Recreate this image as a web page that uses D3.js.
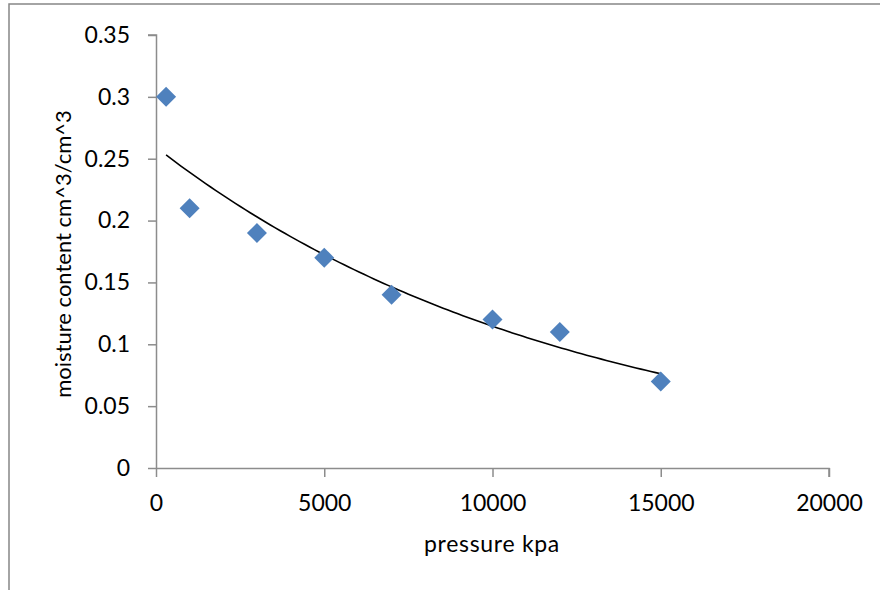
<!DOCTYPE html>
<html>
<head>
<meta charset="utf-8">
<script src="https://cdn.jsdelivr.net/npm/d3@7/dist/d3.min.js"></script>
<style>
  html, body { margin: 0; padding: 0; background: #fff; }
  svg { display: block; }
  text { font-family: Lato, "Open Sans", sans-serif; fill: #000; }
</style>
</head>
<body>
<svg id="chart" width="880" height="590"></svg>
<script>
// ---- data ----
const pressure = [300, 1000, 3000, 5000, 7000, 10000, 12000, 15000];
const moisture = [0.30, 0.21, 0.19, 0.17, 0.14, 0.12, 0.11, 0.07];
const xTicks = [0, 5000, 10000, 15000, 20000];
const yTicks = [0, 0.05, 0.1, 0.15, 0.2, 0.25, 0.3, 0.35];
const xTitle = "pressure kpa";
const yTitle = "moisture content cm^3/cm^3";

(function () {
const svg = d3.select("#chart");
const W = 880, H = 590;
const pL = 156, pR = 829, pT = 35, pB = 468;

// outer chart frame (cut by page edges)
svg.append("rect").attr("x", 9).attr("y", 4).attr("width", W + 20).attr("height", H + 20)
  .attr("fill", "#fff").attr("stroke", "#878787").attr("stroke-width", 1.5);

const x = d3.scaleLinear().domain([0, 20000]).range([pL, pR]);
const y = d3.scaleLinear().domain([0, 0.35]).range([pB, pT]);

const axisColor = "#8c8c8c";
const fontSize = 23;

// y axis
const gy = svg.append("g").attr("transform", `translate(${pL},0)`)
  .call(d3.axisLeft(y).tickValues(yTicks).tickSize(8).tickPadding(18)
    .tickFormat(d => d3.format("~g")(d)));
// x axis
const gx = svg.append("g").attr("transform", `translate(0,${pB})`)
  .call(d3.axisBottom(x).tickValues(xTicks).tickSize(9).tickPadding(18)
    .tickFormat(d3.format("d")));

[gx, gy].forEach(g => {
  g.select(".domain").attr("stroke", axisColor).attr("stroke-width", 1.5)
    .attr("d", g === gx ? `M${pL},0.5H${pR}V9` : `M-8,${pT}H0.5V${pB}`);
  g.selectAll(".tick line").attr("stroke", axisColor).attr("stroke-width", 1.5);
  g.selectAll(".tick text").style("font-size", fontSize + "px")
    .style("font-family", "Lato, 'Open Sans', sans-serif").attr("fill", "#000");
});
gy.selectAll(".tick text").attr("x", -26);

// exponential trendline (least squares on ln y), as Excel does
const n = pressure.length;
const lny = moisture.map(Math.log);
const mx = d3.mean(pressure), my = d3.mean(lny);
let sxy = 0, sxx = 0;
for (let i = 0; i < n; i++) { sxy += (pressure[i] - mx) * (lny[i] - my); sxx += (pressure[i] - mx) ** 2; }
const b = sxy / sxx, a = Math.exp(my - b * mx);
const x0 = d3.min(pressure), x1 = d3.max(pressure);
const xs = d3.range(0, 101).map(k => x0 + (x1 - x0) * k / 100);
svg.append("path")
  .datum(xs)
  .attr("fill", "none").attr("stroke", "#000").attr("stroke-width", 1.6)
  .attr("d", d3.line().x(d => x(d)).y(d => y(a * Math.exp(b * d))));

// markers
svg.append("g").selectAll("path").data(pressure.map((p, i) => [p, moisture[i]])).join("path")
  .attr("transform", d => `translate(${x(d[0])},${y(d[1])})`)
  .attr("d", "M0,-10L10,0L0,10L-10,0Z")
  .attr("fill", "#4f81bd");

// axis titles
svg.append("text").attr("x", (pL + pR) / 2 - 0.5).attr("y", 552)
  .attr("text-anchor", "middle").style("font-size", "23px").style("letter-spacing", "0.7px").text(xTitle);
svg.append("text").attr("transform", `translate(71,254) rotate(-90)`)
  .attr("text-anchor", "middle").style("font-size", "22px").text(yTitle);
})();
</script>
</body>
</html>
